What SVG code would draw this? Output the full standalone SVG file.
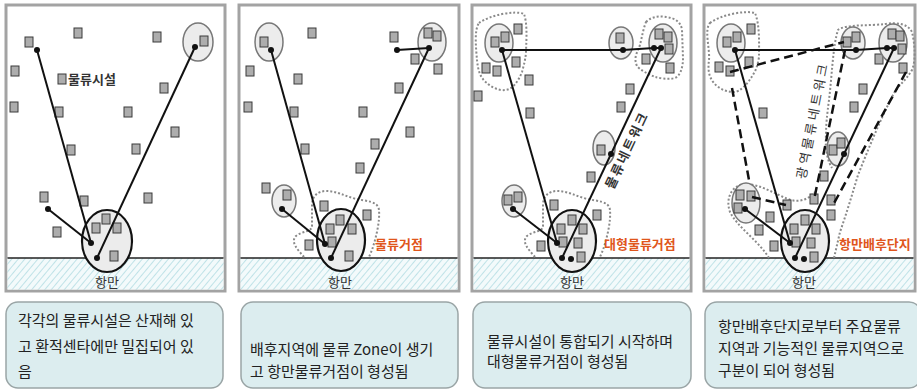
<svg xmlns="http://www.w3.org/2000/svg" width="917" height="389" viewBox="0 0 917 389">
<style>
.panel{fill:#fff;stroke:#a3a3a3;stroke-width:3}
.ground{fill:url(#hatch)}
.gl{stroke:#222;stroke-width:1.5}
.sq{fill:#adadad;stroke:#3a3a3a;stroke-width:1}
.port{fill:#ececec;stroke:#111;stroke-width:2.2}
.cl{fill:#ececec;stroke:#777;stroke-width:1.5}
.blob{fill:none;stroke:#8a8a8a;stroke-width:2;stroke-dasharray:2 2}
.ln{stroke:#111;stroke-width:2;fill:none}
.dash{stroke:#111;stroke-width:2.5;fill:none;stroke-dasharray:9 5}
.dot{fill:#111}
.lbl{font-family:"Noto Sans CJK KR","Noto Sans",sans-serif;font-size:13px;fill:#333}
.org{font-family:"Noto Sans CJK KR","Noto Sans",sans-serif;font-size:13px;font-weight:bold;fill:#e0561c}
.box{fill:#dcedef;stroke:#9aa5a6;stroke-width:1.5}
.bt{font-family:"Noto Sans CJK KR","Noto Sans",sans-serif;font-size:15px;fill:#222}
</style>
<defs>
<pattern id="hatch" width="5" height="5" patternUnits="userSpaceOnUse" patternTransform="rotate(40)">
<rect width="5" height="5" fill="#f3fafb"/>
<line x1="0" y1="0" x2="0" y2="5" stroke="#bfe2e7" stroke-width="2"/>
</pattern>
</defs>

<!-- Panel backgrounds -->
<g id="panel1">
<rect class="panel" x="6" y="5" width="219" height="286"/>
<rect class="ground" x="7.5" y="258" width="216" height="31.5"/>
<line class="gl" x1="7.5" y1="258" x2="223.5" y2="258"/>
</g>
<g id="panel2">
<rect class="panel" x="239" y="5" width="220" height="286"/>
<rect class="ground" x="240.5" y="258" width="217" height="31.5"/>
<line class="gl" x1="240.5" y1="258" x2="457.5" y2="258"/>
</g>
<g id="panel3">
<rect class="panel" x="472" y="5" width="219" height="286"/>
<rect class="ground" x="473.5" y="258" width="216" height="31.5"/>
<line class="gl" x1="473.5" y1="258" x2="689.5" y2="258"/>
</g>
<g id="panel4">
<rect class="panel" x="704" y="5" width="211" height="286"/>
<rect class="ground" x="705.5" y="258" width="208" height="31.5"/>
<line class="gl" x1="705.5" y1="258" x2="913.5" y2="258"/>
</g>

<!-- dotted zones -->
<g id="zones">
<path class="blob" d="M304,257 C298,250 290,242 296,236 C302,231 312,232 312,226 L312,205 C312,196 318,191 326,191 C336,191 345,196 356,199 C366,201 378,201 379,210 C380,222 376,238 372,250 L369,257"/>
<path class="blob" d="M479,23 C490,15 515,10 524,14 C528,25 526,45 526,53 C525,62 523,68 522,72 C518,82 512,90 505,90 C498,91 490,86 487,83 C480,78 478,70 477,60 C476,48 474,30 479,23 Z"/>
<path class="blob" d="M646,22 C652,16 660,16 666,17 C675,18 681,22 682,30 L683,58 C683,68 680,76 675,78 C667,80 660,78 655,77 C648,74 640,70 637,66 C634,60 636,54 638,50 C641,45 642,32 646,22 Z"/>
<path class="blob" d="M535,257 C529,250 521,242 527,236 C533,231 543,232 543,226 L543,205 C543,196 549,191 557,191 C567,191 576,196 587,199 C597,201 609,201 610,210 C611,222 607,238 603,250 L600,257"/>
<path class="blob" d="M710,23 C720,15 745,10 755,13 C760,25 759,45 759,57 C758,64 756,70 754,73 C748,84 740,92 734,92 C725,92 718,88 714,83 C708,76 708,68 709,60 C710,48 704,30 710,23 Z"/>
<path class="blob" d="M834,258 L840,232 C846,215 852,195 858,175 C868,150 880,120 893,95 C898,85 905,82 912,70 C916,60 915,45 912,32 C908,24 898,22 885,24 C870,26 845,24 838,30 C833,45 832,75 829,100 C827,115 826,125 826,135 C825,148 827,160 832,168"/>
<path class="blob" d="M769,258 C758,240 738,228 730,212 C725,198 732,185 745,184 C760,184 775,194 788,199 C798,203 808,200 815,192"/>
</g>

<!-- Nodes: panel 1 -->
<g id="p1-facilities">
<rect class="sq" x="25" y="37" width="8" height="10"/>
<rect class="sq" x="74" y="28" width="8" height="10"/>
<rect class="sq" x="153" y="32" width="8" height="10"/>
<rect class="sq" x="11" y="66" width="8" height="10"/>
<rect class="sq" x="160" y="83" width="8" height="10"/>
<rect class="sq" x="10" y="102" width="8" height="10"/>
<rect class="sq" x="55" y="107" width="8" height="10"/>
<rect class="sq" x="124" y="107" width="8" height="10"/>
<rect class="sq" x="171" y="127" width="8" height="10"/>
<rect class="sq" x="67" y="145" width="8" height="10"/>
<rect class="sq" x="132" y="144" width="8" height="10"/>
<rect class="sq" x="40" y="192" width="8" height="10"/>
<rect class="sq" x="80" y="196" width="8" height="10"/>
<rect class="sq" x="144" y="193" width="8" height="10"/>
<rect class="sq" x="53" y="227" width="8" height="10"/>
</g>
<g id="p1-legend">
<rect class="sq" x="58" y="74" width="8" height="10"/>
<text class="lbl" x="68" y="84" font-weight="bold">물류시설</text>
</g>
<g id="p1-hub-tr">
<ellipse class="cl" cx="198" cy="42" rx="15" ry="19"/>
<rect class="sq" x="200" y="36" width="8" height="10"/>
</g>
<g id="p1-port">
<ellipse class="port" cx="107" cy="241" rx="25" ry="31"/>
<rect class="sq" x="92" y="223" width="8" height="10"/>
<rect class="sq" x="102" y="214" width="8" height="10"/>
<rect class="sq" x="113" y="223" width="8" height="10"/>
<rect class="sq" x="110" y="251" width="8" height="10"/>
<text class="lbl" x="107" y="287" text-anchor="middle">항만</text>
</g>

<!-- Nodes: panel 2 -->
<g id="p2-facilities">
<rect class="sq" x="308" y="28" width="8" height="10"/>
<rect class="sq" x="390" y="32" width="8" height="10"/>
<rect class="sq" x="246" y="66" width="8" height="10"/>
<rect class="sq" x="294" y="74" width="8" height="10"/>
<rect class="sq" x="244" y="102" width="8" height="10"/>
<rect class="sq" x="290" y="107" width="8" height="10"/>
<rect class="sq" x="359" y="107" width="8" height="10"/>
<rect class="sq" x="406" y="127" width="8" height="10"/>
<rect class="sq" x="301" y="144" width="8" height="10"/>
<rect class="sq" x="371" y="139" width="8" height="10"/>
<rect class="sq" x="356" y="163" width="8" height="10"/>
<rect class="sq" x="395" y="83" width="8" height="10"/>
<rect class="sq" x="411" y="54" width="8" height="10"/>
<rect class="sq" x="434" y="64" width="8" height="10"/>
<rect class="sq" x="262" y="183" width="8" height="10"/>
<rect class="sq" x="320" y="201" width="8" height="10"/>
<rect class="sq" x="363" y="210" width="8" height="10"/>
<rect class="sq" x="305" y="240" width="8" height="10"/>
</g>
<g id="p2-hub-tl">
<ellipse class="cl" cx="269" cy="42" rx="14" ry="19"/>
<rect class="sq" x="260" y="37" width="8" height="10"/>
</g>
<g id="p2-hub-tr">
<ellipse class="cl" cx="432" cy="42" rx="14" ry="19"/>
<rect class="sq" x="424" y="28" width="8" height="10"/>
<rect class="sq" x="433" y="31" width="8" height="10"/>
</g>
<g id="p2-hub-l">
<ellipse class="cl" cx="284" cy="201" rx="12" ry="16"/>
<rect class="sq" x="283" y="190" width="8" height="10"/>
</g>
<g id="p2-port">
<ellipse class="port" cx="341" cy="240" rx="24" ry="31"/>
<rect class="sq" x="326" y="224" width="8" height="10"/>
<rect class="sq" x="336" y="215" width="8" height="10"/>
<rect class="sq" x="348" y="224" width="8" height="10"/>
<rect class="sq" x="328" y="237" width="8" height="10"/>
<rect class="sq" x="345" y="251" width="8" height="10"/>
<text class="lbl" x="340" y="287" text-anchor="middle">항만</text>
<text class="org" x="375" y="249">물류거점</text>
</g>

<!-- Nodes: panel 3 -->
<g id="p3-facilities">
<rect class="sq" x="514" y="24" width="8" height="10"/>
<rect class="sq" x="482" y="63" width="8" height="10"/>
<rect class="sq" x="493" y="66" width="8" height="10"/>
<rect class="sq" x="512" y="57" width="8" height="10"/>
<rect class="sq" x="525" y="75" width="8" height="10"/>
<rect class="sq" x="474" y="91" width="8" height="10"/>
<rect class="sq" x="526" y="108" width="8" height="10"/>
<rect class="sq" x="642" y="54" width="8" height="10"/>
<rect class="sq" x="666" y="63" width="8" height="10"/>
<rect class="sq" x="626" y="84" width="8" height="10"/>
<rect class="sq" x="617" y="102" width="8" height="10"/>
<rect class="sq" x="587" y="172" width="8" height="10"/>
<rect class="sq" x="593" y="210" width="8" height="10"/>
<rect class="sq" x="537" y="241" width="8" height="10"/>
<rect class="sq" x="550" y="200" width="8" height="10"/>
</g>
<g id="p3-hub-tl">
<ellipse class="cl" cx="499" cy="43" rx="14" ry="19"/>
<rect class="sq" x="491" y="37" width="8" height="10"/>
<rect class="sq" x="501" y="32" width="8" height="10"/>
</g>
<g id="p3-hub-tm">
<ellipse class="cl" cx="621" cy="43" rx="12" ry="16"/>
<rect class="sq" x="616" y="33" width="8" height="10"/>
</g>
<g id="p3-hub-tr">
<ellipse class="cl" cx="663" cy="43" rx="14" ry="19"/>
<rect class="sq" x="655" y="29" width="8" height="10"/>
<rect class="sq" x="664" y="32" width="8" height="10"/>
<rect class="sq" x="665" y="44" width="8" height="10"/>
</g>
<g id="p3-hub-m">
<ellipse class="cl" cx="604" cy="148" rx="11" ry="17"/>
<rect class="sq" x="597" y="145" width="8" height="10"/>
</g>
<g id="p3-hub-l">
<ellipse class="cl" cx="514" cy="201" rx="12" ry="16"/>
<rect class="sq" x="504" y="195" width="8" height="10"/>
<rect class="sq" x="514" y="192" width="8" height="10"/>
</g>
<g id="p3-port">
<ellipse class="port" cx="572" cy="241" rx="24" ry="31"/>
<rect class="sq" x="557" y="224" width="8" height="10"/>
<rect class="sq" x="568" y="215" width="8" height="10"/>
<rect class="sq" x="579" y="224" width="8" height="10"/>
<rect class="sq" x="559" y="237" width="8" height="10"/>
<rect class="sq" x="574" y="238" width="8" height="10"/>
<rect class="sq" x="577" y="252" width="8" height="10"/>
<text class="lbl" x="572" y="287" text-anchor="middle">항만</text>
<text class="org" x="604" y="249">대형물류거점</text>
</g>

<!-- Nodes: panel 4 -->
<g id="p4-facilities">
<rect class="sq" x="747" y="24" width="8" height="10"/>
<rect class="sq" x="715" y="62" width="8" height="10"/>
<rect class="sq" x="726" y="66" width="8" height="10"/>
<rect class="sq" x="745" y="57" width="8" height="10"/>
<rect class="sq" x="759" y="108" width="8" height="10"/>
<rect class="sq" x="875" y="54" width="8" height="10"/>
<rect class="sq" x="899" y="63" width="8" height="10"/>
<rect class="sq" x="859" y="84" width="8" height="10"/>
<rect class="sq" x="850" y="102" width="8" height="10"/>
<rect class="sq" x="820" y="171" width="8" height="10"/>
<rect class="sq" x="783" y="200" width="8" height="10"/>
<rect class="sq" x="766" y="212" width="8" height="10"/>
<rect class="sq" x="755" y="225" width="8" height="10"/>
<rect class="sq" x="810" y="194" width="8" height="10"/>
<rect class="sq" x="827" y="195" width="8" height="10"/>
<rect class="sq" x="827" y="210" width="8" height="10"/>
<rect class="sq" x="770" y="241" width="8" height="10"/>
</g>
<g id="p4-hub-tl">
<ellipse class="cl" cx="731" cy="43" rx="14" ry="19"/>
<rect class="sq" x="723" y="37" width="8" height="10"/>
<rect class="sq" x="733" y="32" width="8" height="10"/>
</g>
<g id="p4-hub-tm">
<ellipse class="cl" cx="853" cy="43" rx="12" ry="16"/>
<rect class="sq" x="843" y="37" width="8" height="10"/>
<rect class="sq" x="852" y="32" width="8" height="10"/>
</g>
<g id="p4-hub-tr">
<ellipse class="cl" cx="893" cy="43" rx="14" ry="19"/>
<rect class="sq" x="888" y="29" width="8" height="10"/>
<rect class="sq" x="896" y="31" width="8" height="10"/>
<rect class="sq" x="898" y="44" width="8" height="10"/>
</g>
<g id="p4-hub-m">
<ellipse class="cl" cx="838" cy="149" rx="11" ry="17"/>
<rect class="sq" x="829" y="145" width="8" height="10"/>
<rect class="sq" x="837" y="138" width="8" height="10"/>
</g>
<g id="p4-hub-l">
<ellipse class="cl" cx="746" cy="203" rx="14" ry="20"/>
<rect class="sq" x="736" y="190" width="8" height="10"/>
<rect class="sq" x="747" y="191" width="8" height="10"/>
<rect class="sq" x="734" y="203" width="8" height="10"/>
</g>
<g id="p4-port">
<ellipse class="port" cx="805" cy="241" rx="24" ry="31"/>
<rect class="sq" x="790" y="224" width="8" height="10"/>
<rect class="sq" x="801" y="215" width="8" height="10"/>
<rect class="sq" x="812" y="224" width="8" height="10"/>
<rect class="sq" x="792" y="237" width="8" height="10"/>
<rect class="sq" x="807" y="238" width="8" height="10"/>
<rect class="sq" x="810" y="252" width="8" height="10"/>
<text class="lbl" x="804" y="287" text-anchor="middle">항만</text>
<text class="org" x="839" y="249">항만배후단지</text>
</g>

<!-- Connectors -->
<g id="connectors">
<!-- panel 1 -->
<line class="ln" x1="37" y1="50" x2="91" y2="243"/>
<line class="ln" x1="195" y1="47" x2="97" y2="258"/>
<line class="ln" x1="48" y1="209" x2="91" y2="243"/>
<circle class="dot" cx="37" cy="50" r="3"/>
<circle class="dot" cx="195" cy="47" r="3"/>
<circle class="dot" cx="48" cy="209" r="3"/>
<circle class="dot" cx="91" cy="243" r="3"/>
<circle class="dot" cx="97" cy="258" r="3"/>
<!-- panel 2 -->
<line class="ln" x1="271" y1="50" x2="325" y2="244"/>
<line class="ln" x1="429" y1="48" x2="331" y2="258"/>
<line class="ln" x1="282" y1="209" x2="325" y2="244"/>
<line class="ln" x1="397" y1="50" x2="429" y2="48"/>
<circle class="dot" cx="271" cy="50" r="3"/>
<circle class="dot" cx="429" cy="48" r="3"/>
<circle class="dot" cx="397" cy="50" r="3"/>
<circle class="dot" cx="282" cy="209" r="3"/>
<circle class="dot" cx="325" cy="244" r="3"/>
<circle class="dot" cx="331" cy="258" r="3"/>
<!-- panel 3 -->
<polyline class="ln" points="502,50 623,50 654,48 661,48" stroke-width="2.5"/>
<line class="ln" x1="502" y1="50" x2="557" y2="243"/>
<line class="ln" x1="661" y1="48" x2="562" y2="258"/>
<line class="ln" x1="513" y1="209" x2="557" y2="243"/>
<circle class="dot" cx="502" cy="50" r="3"/>
<circle class="dot" cx="623" cy="50" r="3"/>
<circle class="dot" cx="654" cy="48" r="3"/>
<circle class="dot" cx="661" cy="48" r="3"/>
<circle class="dot" cx="611" cy="154" r="3"/>
<circle class="dot" cx="513" cy="209" r="3"/>
<circle class="dot" cx="557" cy="243" r="3"/>
<circle class="dot" cx="562" cy="258" r="3"/>
<circle class="dot" cx="571" cy="259" r="3"/>
<text class="lbl" font-weight="bold" font-size="12" transform="translate(631,152) rotate(-64.8)" text-anchor="middle" letter-spacing="2">물류네트워크</text>
<!-- panel 4 -->
<line class="dash" x1="730" y1="72" x2="844" y2="42"/>
<line class="dash" x1="732" y1="88" x2="749" y2="180"/>
<line class="dash" x1="752" y1="197" x2="786" y2="205"/>
<line class="dash" x1="906" y1="72" x2="833" y2="205"/>
<line class="dash" x1="845" y1="50" x2="814" y2="200"/>
<polyline class="ln" points="735,50 856,50 887,48 894,48" stroke-width="2.5"/>
<line class="ln" x1="735" y1="50" x2="790" y2="243"/>
<line class="ln" x1="894" y1="48" x2="795" y2="258"/>
<line class="ln" x1="745" y1="209" x2="790" y2="243"/>
<circle class="dot" cx="735" cy="50" r="3"/>
<circle class="dot" cx="856" cy="50" r="3"/>
<circle class="dot" cx="887" cy="48" r="3"/>
<circle class="dot" cx="894" cy="48" r="3"/>
<circle class="dot" cx="844" cy="154" r="3"/>
<circle class="dot" cx="745" cy="209" r="3"/>
<circle class="dot" cx="790" cy="243" r="3"/>
<circle class="dot" cx="795" cy="258" r="3"/>
<circle class="dot" cx="804" cy="259" r="3"/>
<text class="lbl" font-size="12" transform="translate(817,121) rotate(-79)" text-anchor="middle" letter-spacing="3">광역물류네트워크</text>
</g>

<!-- Description boxes -->
<g id="desc1">
<rect class="box" x="6" y="302" width="217" height="86" rx="12"/>
<text class="bt" x="18" y="326">각각의 물류시설은 산재해 있</text>
<text class="bt" x="18" y="352">고 환적센타에만 밀집되어 있</text>
<text class="bt" x="18" y="377">음</text>
</g>
<g id="desc2">
<rect class="box" x="241" y="302" width="217" height="86" rx="12"/>
<text class="bt" x="250" y="355">배후지역에 물류 Zone이 생기</text>
<text class="bt" x="250" y="377">고 항만물류거점이 형성됨</text>
</g>
<g id="desc3">
<rect class="box" x="473" y="302" width="218" height="86" rx="12"/>
<text class="bt" x="487" y="347">물류시설이 통합되기 시작하며</text>
<text class="bt" x="487" y="367">대형물류거점이 형성됨</text>
</g>
<g id="desc4">
<rect class="box" x="705" y="302" width="216" height="86" rx="12"/>
<text class="bt" x="718" y="332">항만배후단지로부터 주요물류</text>
<text class="bt" x="718" y="354">지역과 기능적인 물류지역으로</text>
<text class="bt" x="718" y="376">구분이 되어 형성됨</text>
</g>
</svg>
